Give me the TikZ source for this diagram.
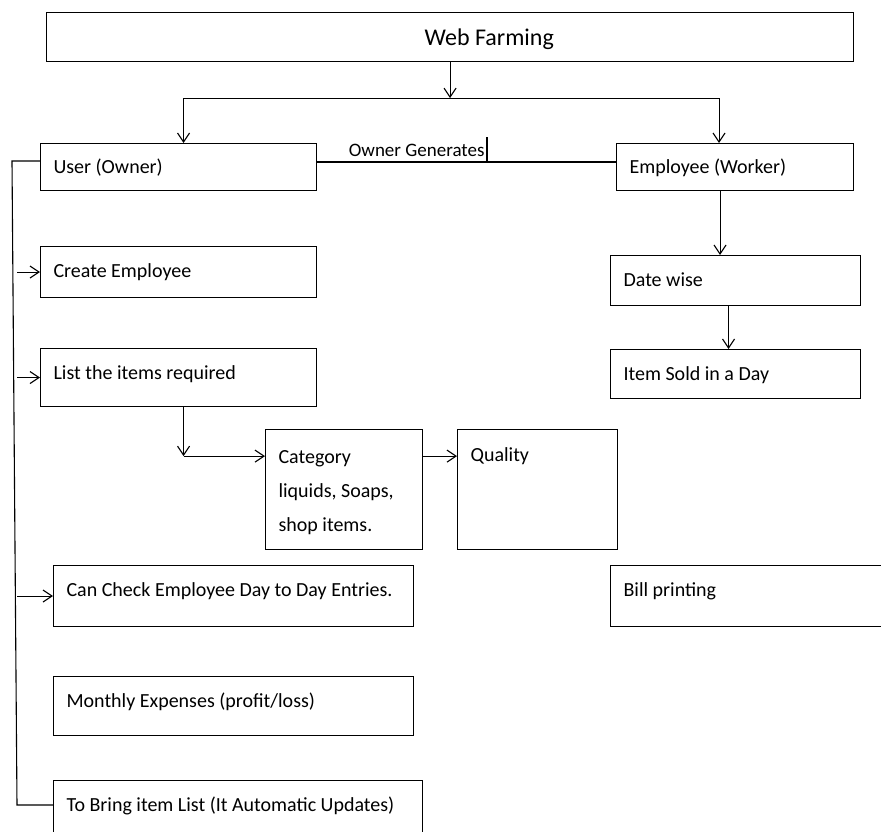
\documentclass[tikz,border=0pt]{standalone}
\usepackage{fontspec}
\setmainfont{Carlito}
\usetikzlibrary{arrows.meta}

\tikzset{
  box/.style={draw, rectangle, anchor=north west, inner sep=0pt, minimum width=#1},
  tag/.style={label={[anchor=base west, inner sep=0pt, xshift=13pt, yshift=-31pt]north west:#1}},
  arr/.style={-{Straight Barb[length=9pt, width=12pt]}},
}

\begin{document}
\begin{tikzpicture}[x=1pt, y=-1pt, line width=1.1pt, font=\fontsize{20}{34}\selectfont]
    \clip (0,0) rectangle (881,832);

    % title
    \node[box=807pt, minimum height=49pt,
          label={[anchor=base west, inner sep=0pt, xshift=378pt, yshift=-34pt, font=\fontsize{24}{29}\selectfont]north west:Web Farming}] (title) at (46,12) {};

    % owner side
    \node[box=276pt, minimum height=47pt, tag={User (Owner)}] (user) at (40,143) {};
    \node[box=276pt, minimum height=51pt, tag={Create Employee}] (create) at (40,246) {};
    \node[box=276pt, minimum height=58pt, tag={List the items required}] (list) at (40,348) {};
    \node[box=157pt, minimum height=120pt,
          label={[anchor=west, align=left, inner sep=0pt, xshift=13pt, yshift=-3pt]west:Category\\liquids, Soaps,\\shop items.}] (cat) at (265,429) {};
    \node[box=160pt, minimum height=120pt,
          label={[anchor=base west, inner sep=0pt, xshift=13pt, yshift=-32pt]north west:Quality}] (qual) at (457,429) {};
    \node[box=360pt, minimum height=61pt, tag={Can Check Employee Day to  Day Entries.}] (check) at (53,565) {};
    \node[box=360pt, minimum height=59pt, tag={Monthly Expenses (profit/loss)}] (month) at (53,676) {};
    \node[box=369pt, minimum height=70pt, tag={To Bring item List (It Automatic Updates)}] (bring) at (53,780) {};

    % employee side
    \node[box=237pt, minimum height=47pt, tag={Employee (Worker)}] (emp) at (616,143) {};
    \node[box=250pt, minimum height=50pt, tag={Date wise}] (date) at (610,255) {};
    \node[box=250pt, minimum height=49pt, tag={Item Sold in a Day}] (item) at (610,349) {};
    \node[box=290pt, minimum height=61pt, tag={Bill printing}] (bill) at (610,565) {};

    % split from the title
    \draw[arr] (title.south) -- ++(0,36) coordinate (split);
    \draw[arr] (split) -| ([xshift=5pt]user.north);
    \draw[arr] (split) -| ([xshift=-16pt]emp.north);

    % owner to employee
    \coordinate (gen) at (487,162);
    \draw (user.east |- gen) -- (gen) -- (gen -| emp.west);
    \draw (gen) -- ++(0,-25);
    \node[anchor=base east, inner sep=0pt, font=\fontsize{19}{23}\selectfont] (owngen) at ([xshift=-2pt, yshift=5pt]gen) {Owner Generates};

    % bus on the left
    \coordinate (bustop) at (12,161);
    \coordinate (busbot) at (17,805);
    \draw (user.west |- bustop) -- (bustop) -- (busbot) -- (busbot -| bring.west);
    \foreach \n in {create, list, check}
        \draw[arr] (busbot |- \n.west) -- (\n.west);

    % items
    \draw[arr] ([xshift=5pt]list.south) -- ++(0,49) coordinate (bend);
    \draw[arr] (bend) -- (bend -| cat.west);
    \draw[arr] (bend -| cat.east) -- (bend -| qual.west);

    % worker chain
    \draw[arr] ([xshift=-15pt]emp.south) -- ([xshift=-15pt]emp.south |- date.north);
    \draw[arr] ([xshift=-7pt]date.south) -- ([xshift=-7pt]date.south |- item.north);
\end{tikzpicture}
\end{document}
